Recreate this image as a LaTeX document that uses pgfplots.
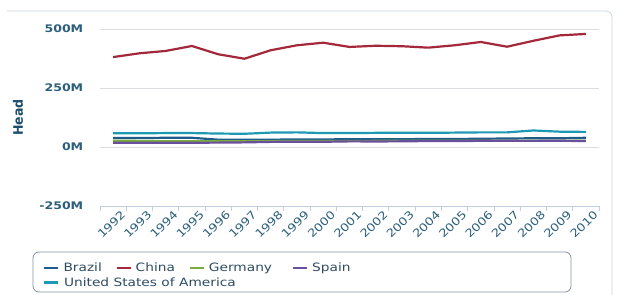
\documentclass[border=0pt]{standalone}
\usepackage{pgfplots}
\pgfplotsset{compat=1.18}
\usepackage{fontspec}
\setmainfont{DejaVu Sans}[FakeStretch=1.2]
\definecolor{cBrazil}{HTML}{1F5C8C}
\definecolor{cChina}{HTML}{A3283A}
\definecolor{cGermany}{HTML}{7AAE3C}
\definecolor{cSpain}{HTML}{6A4F9E}
\definecolor{cUSA}{HTML}{1E99B4}
\definecolor{ticktext}{HTML}{2B5F7C}
\definecolor{labeltext}{HTML}{1C4D6B}
\definecolor{legtext}{HTML}{2E4B60}
\definecolor{gridc}{HTML}{D9DDE0}
\definecolor{axisblue}{HTML}{C0D0E0}
\definecolor{framec}{HTML}{C9D5DF}
\begin{document}
\begin{tikzpicture}
\useasboundingbox (0,0) rectangle (619bp,295bp);
\draw[framec, line width=0.8bp] (7bp,284bp) -- (606bp,284bp) arc[start angle=90,end angle=0,radius=6bp] -- (612bp,0bp);
\draw[legtext!60, line width=0.8bp, rounded corners=6bp] (33bp,3bp) rectangle (571bp,43bp);
\begin{axis}[
  at={(100bp,89bp)}, anchor=south west,
  scale only axis, width=499bp, height=177bp,
  xmin=1991.5, xmax=2010.5, ymin=-250, ymax=500,
  axis lines*=left,
  y axis line style={draw=none},
  x axis line style={draw=axisblue, line width=0.8bp},
  ytick={-250,0,250,500},
  yticklabels={-250M,0M,250M,500M},
  ytick style={draw=none},
  ymajorgrids, grid style={gridc, line width=0.8bp},
  yticklabel style={font=\fontsize{10.5}{12}\selectfont\bfseries, text=ticktext, xshift=-9bp},
  xtick={1992,...,2010},
  xticklabels={1992,1993,1994,1995,1996,1997,1998,1999,2000,2001,2002,2003,2004,2005,2006,2007,2008,2009,2010},
  major x tick style={draw=none},
  minor xtick={1991.5,1992.5,...,2010.5},
  minor x tick style={draw=axisblue, line width=0.8bp},
  tick align=outside, minor tick length=5bp,
  xticklabel style={font=\fontsize{11}{13}\selectfont, text=ticktext, rotate=45, anchor=north east, xshift=9bp, yshift=-1bp},
  ylabel={\scalebox{1}[1.25]{Head}},
  ylabel style={font=\fontsize{10.5}{12}\selectfont\bfseries, text=labeltext, at={(axis description cs:-0.147,0.5)}, anchor=south},
  legend columns=4,
  legend style={draw=none, fill=none, inner sep=0pt, at={(axis description cs:-0.114,-0.322)}, anchor=north west,
    font=\fontsize{11.5}{14}\selectfont, text=legtext,
    nodes={inner sep=0pt},
    /tikz/every even column/.append style={column sep=0pt},
    /tikz/every odd column/.append style={column sep=4bp}, row sep=4bp},
  legend cell align=left,
  legend image code/.code={\draw[#1, line width=2.2bp] (0bp,0bp) -- (14bp,0bp);},
  every axis plot/.append style={line width=2.2bp, line join=round},
]
\addplot[cBrazil] coordinates {(1992,38)(1993,38)(1994,39)(1995,39)(1996,31)(1997,31)(1998,31)(1999,32)(2000,32)(2001,33)(2002,33)(2003,33)(2004,34)(2005,34)(2006,35)(2007,36)(2008,37)(2009,37)(2010,39)};
\addlegendentry{\makebox[52bp][l]{Brazil}}
\addplot[cChina] coordinates {(1992,381)(1993,397)(1994,407)(1995,428)(1996,393)(1997,374)(1998,410)(1999,431)(2000,442)(2001,424)(2002,429)(2003,427)(2004,421)(2005,431)(2006,445)(2007,425)(2008,450)(2009,473)(2010,479)};
\addlegendentry{\makebox[53bp][l]{China}}
\addplot[cGermany] coordinates {(1992,26.5)(1993,26)(1994,24.7)(1995,24.7)(1996,24.3)(1997,24.8)(1998,24.8)(1999,26)(2000,25.8)(2001,25.8)(2002,26.1)(2003,26.5)(2004,26.5)(2005,26.9)(2006,26.8)(2007,27.1)(2008,26.7)(2009,26.8)(2010,26.9)};
\addlegendentry{\makebox[83bp][l]{Germany}}
\addplot[cSpain] coordinates {(1992,18.2)(1993,18.3)(1994,18.3)(1995,18.1)(1996,18.6)(1997,19.6)(1998,21.7)(1999,22.4)(2000,22.1)(2001,23.9)(2002,23.5)(2003,24.0)(2004,25.3)(2005,24.9)(2006,26.2)(2007,26.1)(2008,26.0)(2009,26.3)(2010,25.3)};
\addlegendentry{Spain}
\addplot[cUSA] coordinates {(1992,58)(1993,58)(1994,59)(1995,59)(1996,57)(1997,56)(1998,61)(1999,62)(2000,59)(2001,59)(2002,60)(2003,60)(2004,60)(2005,61)(2006,62)(2007,62)(2008,70)(2009,65)(2010,64)};
\addlegendentry{\makebox[0pt][l]{United States of America}}
\end{axis}
\end{tikzpicture}
\end{document}
